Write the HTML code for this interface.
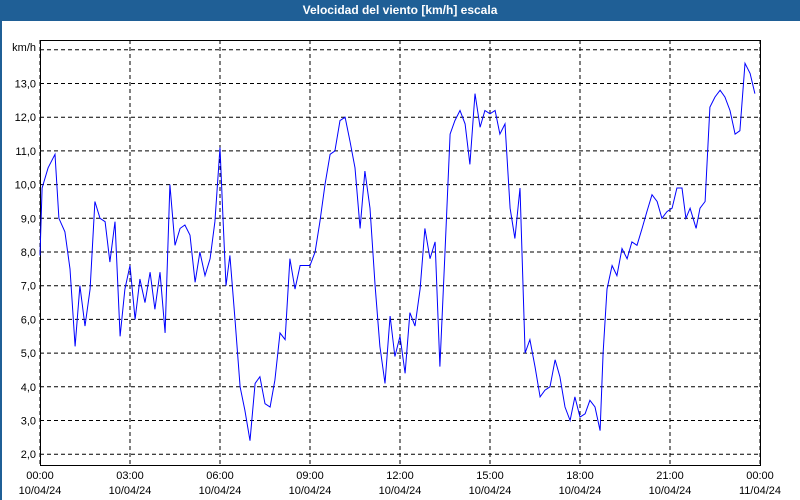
<!DOCTYPE html>
<html><head><meta charset="utf-8"><style>
body{margin:0;background:#fff;font-family:"Liberation Sans",sans-serif}
#wrap{position:relative;width:800px;height:500px;overflow:hidden}
#hdr{position:absolute;left:0;top:0;width:800px;height:21px;background:#1f5f96;color:#fff;font-weight:bold;font-size:12px;text-align:center;line-height:21px}
#lb{position:absolute;left:0;top:21px;width:2px;height:479px;background:#1f5f96}
</style></head><body>
<div id="wrap">
<div id="hdr">Velocidad del viento [km/h] escala</div>
<div id="lb"></div>
<svg id="svg" width="800" height="500" style="position:absolute;left:0;top:0"></svg>
</div>
<script>
const hours=[0,0.07,0.27,0.5,0.63,0.83,1,1.17,1.33,1.5,1.67,1.83,2,2.17,2.33,2.5,2.67,2.83,3,3.17,3.33,3.5,3.67,3.83,4,4.17,4.33,4.5,4.67,4.83,5,5.17,5.33,5.5,5.67,5.83,6,6.1,6.2,6.33,6.5,6.67,6.83,7,7.17,7.33,7.5,7.67,7.83,8,8.17,8.33,8.5,8.67,8.83,9,9.17,9.33,9.5,9.67,9.83,10,10.17,10.33,10.5,10.67,10.83,11,11.17,11.33,11.5,11.67,11.83,12,12.17,12.33,12.5,12.67,12.83,13,13.17,13.33,13.5,13.67,13.83,14,14.17,14.33,14.5,14.67,14.83,15,15.17,15.33,15.5,15.67,15.83,16,16.17,16.33,16.5,16.67,16.83,17,17.17,17.33,17.5,17.67,17.83,18,18.17,18.33,18.5,18.67,18.77,18.9,19.07,19.23,19.4,19.57,19.73,19.9,20.07,20.23,20.4,20.57,20.73,20.9,21.07,21.23,21.4,21.53,21.67,21.87,22,22.17,22.33,22.5,22.67,22.83,23,23.17,23.33,23.5,23.67,23.83];
const speeds=[7.9,9.9,10.5,10.9,9.0,8.6,7.5,5.2,7.0,5.8,6.9,9.5,9.0,8.9,7.7,8.9,5.5,6.9,7.6,6.0,7.2,6.5,7.4,6.3,7.4,5.6,10.0,8.2,8.7,8.8,8.5,7.1,8.0,7.3,7.8,8.9,11.1,9.0,7.0,7.9,6.0,4.0,3.3,2.4,4.1,4.3,3.5,3.4,4.2,5.6,5.4,7.8,6.9,7.6,7.6,7.6,8.0,8.9,10.0,10.9,11.0,11.9,12.0,11.3,10.5,8.7,10.4,9.3,7.0,5.2,4.1,6.1,4.9,5.5,4.4,6.2,5.8,6.9,8.7,7.8,8.3,4.6,8.0,11.5,11.9,12.2,11.8,10.6,12.7,11.7,12.2,12.1,12.2,11.5,11.8,9.3,8.4,9.9,5.0,5.4,4.6,3.7,3.9,4.0,4.8,4.3,3.4,3.0,3.7,3.1,3.2,3.6,3.4,2.7,5.0,6.9,7.6,7.3,8.1,7.8,8.3,8.2,8.7,9.2,9.7,9.5,9.0,9.2,9.3,9.9,9.9,9.0,9.3,8.7,9.3,9.5,12.3,12.6,12.8,12.6,12.2,11.5,11.6,13.6,13.3,12.7];
const yTicks=[2,3,4,5,6,7,8,9,10,11,12,13,14];
const xTickHours=[0,3,6,9,12,15,18,21,24];
const xTimeLabels=["00:00","03:00","06:00","09:00","12:00","15:00","18:00","21:00","00:00"];
const xDateLabels=["10/04/24","10/04/24","10/04/24","10/04/24","10/04/24","10/04/24","10/04/24","10/04/24","11/04/24"];

const L=40,R=760,T=40,B=465;
const xs=h=>L+h/24*(R-L);
const ys=v=>83.5+(13-v)*33.7;
const svg=document.getElementById('svg');
const NS='http://www.w3.org/2000/svg';
function mk(tag,a){const e=document.createElementNS(NS,tag);for(const k in a)e.setAttribute(k,a[k]);svg.appendChild(e);return e;}
yTicks.forEach(v=>{
  const l=mk('line',{x1:L,x2:R,y1:ys(v),y2:ys(v),stroke:'#000','stroke-dasharray':'4,3','stroke-width':1});
  
  
  if(v<14){const t=mk('text',{x:36,y:ys(v)+4,'text-anchor':'end','font-size':11,'font-family':'Liberation Sans, sans-serif',fill:'#000'});
  t.textContent=v.toFixed(1).replace('.',',');
  
  }
});
xTickHours.forEach((h,i)=>{
  const l=mk('line',{x1:xs(h),x2:xs(h),y1:T,y2:B,stroke:'#000','stroke-dasharray':'4,3','stroke-width':1});
  
  
  const t=mk('text',{x:xs(h),y:479,'text-anchor':'middle','font-size':11,'font-family':'Liberation Sans, sans-serif',fill:'#000'});
  t.textContent=xTimeLabels[i];
  
  
  const d=mk('text',{x:xs(h),y:494,'text-anchor':'middle','font-size':11,'font-family':'Liberation Sans, sans-serif',fill:'#000'});
  d.textContent=xDateLabels[i];
  
  
});
const f=mk('rect',{x:L+0.5,y:T+0.5,width:R-L,height:B-T,fill:'none',stroke:'#000'});


const u=mk('text',{x:36,y:51,'text-anchor':'end','font-size':11,'font-family':'Liberation Sans, sans-serif',fill:'#000'});
u.textContent='km/h';


const p=mk('polyline',{points:hours.map((h,i)=>xs(h).toFixed(1)+','+ys(speeds[i]).toFixed(1)).join(' '),fill:'none',stroke:'#0000ff','stroke-width':1});


</script>
</body></html>
